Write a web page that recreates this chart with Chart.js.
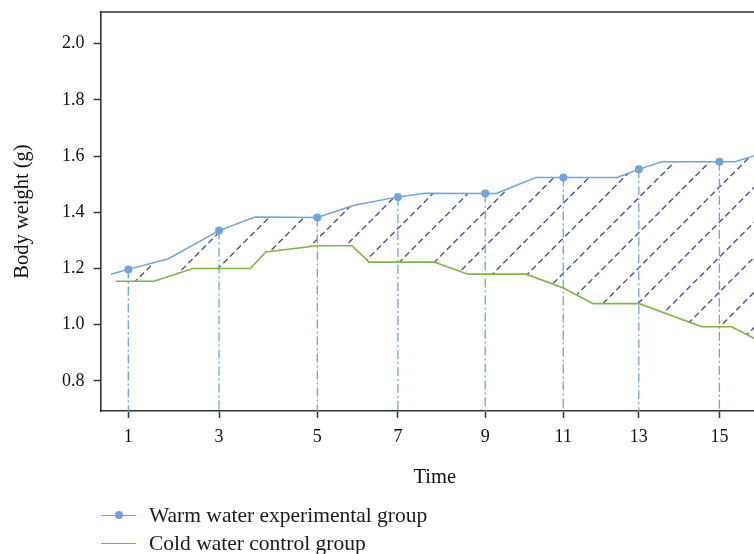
<!DOCTYPE html>
<html>
<head>
<meta charset="utf-8">
<script src="https://cdn.jsdelivr.net/npm/chart.js@4"></script>
<style>
  html, body { margin: 0; padding: 0; overflow: hidden; background: #fff; width: 754px; height: 554px; }
  #wrap { position: relative; width: 772px; height: 554px; }
  #legend { position: absolute; left: 101px; top: 501px; font-family: 'Liberation Serif', 'DejaVu Serif', serif; font-size: 21.5px; color: #1a1a1a; }
  .item { display: flex; align-items: center; height: 28.3px; white-space: nowrap; }
  .sample { position: relative; width: 35px; height: 0; border-top: 1.5px solid; margin-right: 13px; }
  .dot { position: absolute; left: 50%; top: -0.75px; width: 8px; height: 8px; border-radius: 50%; transform: translate(-50%, -50%); }
</style>
</head>
<body>
<div id="wrap">
  <canvas id="c" width="772" height="554"></canvas>
  <div id="legend"></div>
</div>
<script>
// ---- data ----
const seriesNames = ['Warm water experimental group', 'Cold water control group'];
const xTitle = 'Time';
const yTitle = 'Body weight (g)';
const xTickPos = [1.00, 3.15, 5.48, 7.39, 9.46, 11.31, 13.10, 15.01];
const xTickLabels = ['1', '3', '5', '7', '9', '11', '13', '15'];
const yTicks = [0.8, 1.0, 1.2, 1.4, 1.6, 1.8, 2.0];
const warmTime   = [0.59, 1.00, 1.95, 3.15, 4.00, 5.48, 6.33, 7.39, 8.03, 9.46, 9.72, 10.66, 11.31, 12.58, 13.10, 13.64, 15.01, 15.38, 15.83, 16.19];
const warmWeight = [1.180, 1.197, 1.235, 1.335, 1.383, 1.382, 1.424, 1.455, 1.468, 1.467, 1.467, 1.524, 1.524, 1.524, 1.553, 1.580, 1.580, 1.580, 1.601, 1.615];
const coldTime   = [0.70, 1.61, 2.53, 3.89, 4.26, 5.47, 6.30, 6.71, 8.25, 9.05, 10.43, 11.31, 12.02, 13.11, 14.59, 15.30, 15.83, 16.19];
const coldWeight = [1.155, 1.155, 1.200, 1.200, 1.259, 1.281, 1.281, 1.223, 1.223, 1.180, 1.180, 1.131, 1.075, 1.075, 0.993, 0.993, 0.952, 0.924];

// ---- styles ----
const warmColor = '#6fa5db';
const coldColor = '#7ab648';
const hatchColor = '#4f4fa6';
const axisColor = '#333333';
const textColor = '#111111';
const family = "'Liberation Serif', 'DejaVu Serif', serif";

const isTick = x => xTickPos.some(t => Math.abs(t - x) < 1e-9);

const hatchPlugin = {
  id: 'hatchAndDrops',
  beforeDatasetsDraw(chart) {
    const { ctx, chartArea: a } = chart;
    const w = chart.getDatasetMeta(0).data;
    const c = chart.getDatasetMeta(1).data;
    // hatched band between the two series
    ctx.save();
    ctx.beginPath();
    ctx.rect(a.left, a.top, a.right - a.left, a.bottom - a.top);
    ctx.clip();
    ctx.beginPath();
    w.forEach((p, i) => i ? ctx.lineTo(p.x, p.y) : ctx.moveTo(p.x, p.y));
    for (let i = c.length - 1; i >= 0; i--) ctx.lineTo(c[i].x, c[i].y);
    ctx.closePath();
    ctx.clip();
    ctx.strokeStyle = hatchColor;
    ctx.lineWidth = 1.4;
    ctx.setLineDash([6, 3.5]);
    const s = 35, phase = 24;
    for (let k = a.left + a.top + phase; k < a.right + a.bottom; k += s) {
      ctx.beginPath();
      ctx.moveTo(k - a.bottom, a.bottom);
      ctx.lineTo(k - a.top, a.top);
      ctx.stroke();
    }
    ctx.restore();
    // dash-dot drop lines from marked points
    ctx.save();
    ctx.strokeStyle = warmColor;
    ctx.lineWidth = 1.3;
    ctx.setLineDash([9, 3, 2, 3]);
    w.forEach((p, i) => {
      if (isTick(warmTime[i])) {
        ctx.beginPath();
        ctx.moveTo(p.x, p.y);
        ctx.lineTo(p.x, a.bottom);
        ctx.stroke();
      }
    });
    ctx.restore();
  },
  afterDraw(chart) {
    const { ctx, chartArea: a } = chart;
    ctx.save();
    ctx.strokeStyle = axisColor;
    ctx.lineWidth = 1.6;
    ctx.beginPath();
    ctx.moveTo(a.left - 0.8, a.top);
    ctx.lineTo(a.right, a.top);
    ctx.stroke();
    ctx.restore();
  }
};

const chart = new Chart(document.getElementById('c'), {
  type: 'line',
  data: {
    datasets: [
      {
        label: seriesNames[0],
        data: warmTime.map((t, i) => ({ x: t, y: warmWeight[i] })),
        borderColor: warmColor,
        backgroundColor: warmColor,
        borderWidth: 1.5,
        pointRadius: ctx => isTick(ctx.raw.x) ? 4 : 0,
        pointHoverRadius: ctx => isTick(ctx.raw.x) ? 4 : 0,
        pointBorderWidth: 0,
        pointBackgroundColor: warmColor,
        tension: 0,
        fill: false
      },
      {
        label: seriesNames[1],
        data: coldTime.map((t, i) => ({ x: t, y: coldWeight[i] })),
        borderColor: coldColor,
        backgroundColor: coldColor,
        borderWidth: 1.6,
        pointRadius: 0,
        pointHoverRadius: 0,
        tension: 0,
        fill: false
      }
    ]
  },
  options: {
    responsive: false,
    animation: false,
    devicePixelRatio: 1,
    layout: { padding: { top: 12, right: 3, bottom: 63, left: 0 } },
    plugins: { legend: { display: false }, tooltip: { enabled: false } },
    scales: {
      x: {
        type: 'linear',
        min: 0.341,
        max: 16.186,
        afterBuildTicks: s => { s.ticks = xTickPos.map(v => ({ value: v })); },
        afterFit: s => { s.height = 80; s.paddingLeft = 0; s.paddingRight = 0; },
        ticks: {
          autoSkip: false, maxRotation: 0, minRotation: 0, padding: 8, color: textColor,
          font: { family, size: 18 },
          callback: (v, i) => xTickLabels[i]
        },
        grid: { drawOnChartArea: false, drawTicks: true, tickLength: 7, tickWidth: 1.5, tickColor: axisColor },
        border: { display: true, color: axisColor, width: 1.6 },
        title: { display: true, text: xTitle, color: textColor, font: { family, size: 20.5 }, padding: { top: 0, bottom: 1 } }
      },
      y: {
        type: 'linear',
        min: 0.693,
        max: 2.113,
        afterBuildTicks: s => { s.ticks = yTicks.map(v => ({ value: v })); },
        afterFit: s => { s.width = 100.5; s.paddingTop = 0; s.paddingBottom = 0; },
        ticks: {
          padding: 9, color: textColor,
          font: { family, size: 18 },
          callback: v => Number(v).toFixed(1)
        },
        grid: { drawOnChartArea: false, drawTicks: true, tickLength: 7, tickWidth: 1.5, tickColor: axisColor },
        border: { display: true, color: axisColor, width: 1.6 },
        title: { display: true, text: yTitle, color: textColor, font: { family, size: 20.5 }, padding: { top: 10, bottom: 0 } }
      }
    }
  },
  plugins: [hatchPlugin]
});

// HTML legend built from the chart's datasets
const legendEl = document.getElementById('legend');
chart.data.datasets.forEach((ds, i) => {
  const item = document.createElement('div');
  item.className = 'item';
  const sample = document.createElement('span');
  sample.className = 'sample';
  sample.style.borderTopColor = ds.borderColor;
  if (i === 0) {
    const dot = document.createElement('span');
    dot.className = 'dot';
    dot.style.background = ds.borderColor;
    sample.appendChild(dot);
  }
  const label = document.createElement('span');
  label.textContent = ds.label;
  item.appendChild(sample);
  item.appendChild(label);
  legendEl.appendChild(item);
});
</script>
</body>
</html>
